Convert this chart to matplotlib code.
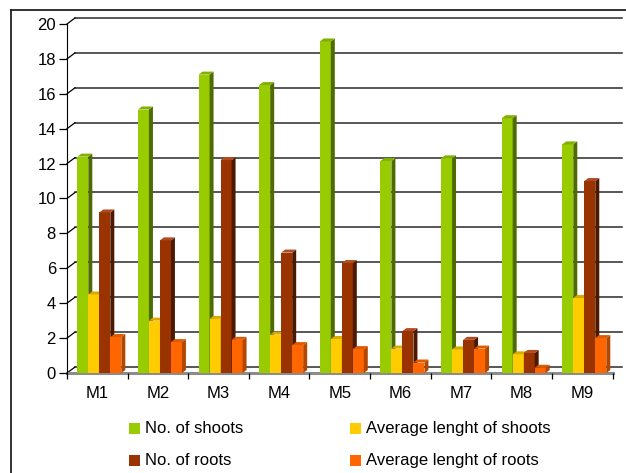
import numpy as np
import matplotlib
matplotlib.use('Agg')
import matplotlib.pyplot as plt
from matplotlib.patches import Polygon, Rectangle
from matplotlib.lines import Line2D

#%% Data
categories = ['M1', 'M2', 'M3', 'M4', 'M5', 'M6', 'M7', 'M8', 'M9']
no_shoots = [12.4, 15.1, 17.1, 16.5, 19.0, 12.15, 12.3, 14.6, 13.1]
avg_len_shoots = [4.5, 3.0, 3.1, 2.2, 1.95, 1.4, 1.35, 1.07, 4.3]
no_roots = [9.2, 7.6, 12.2, 6.9, 6.3, 2.4, 1.9, 1.15, 11.0]
avg_len_roots = [2.06, 1.77, 1.9, 1.6, 1.37, 0.6, 1.4, 0.3, 2.0]

series_names = ['No. of shoots', 'Average lenght of shoots',
                'No. of roots', 'Average lenght of roots']
series_vals = [no_shoots, avg_len_shoots, no_roots, avg_len_roots]
# front, side, top colours (Excel 3D look)
front_cols = ['#99cc00', '#ffcc00', '#993300', '#ff6600']
side_cols = ['#4d6b00', '#b38f00', '#4d1800', '#b34700']
top_cols = ['#80b000', '#d9aa00', '#b04a20', '#e05a00']

plt.rcParams['font.family'] = ['Liberation Sans', 'DejaVu Sans']
FS = 12

#%% Figure + axes placed in pixels
W, H = 626, 473
fig = plt.figure(figsize=(W / 100, H / 100), dpi=100)
x0, x1 = 67, 612.6
y0, y1 = 373, 24
ax = fig.add_axes([x0 / W, (H - y0) / H, (x1 - x0) / W, (y0 - y1) / H])
n = len(categories)
ax.set_xlim(0.5, n + 0.5)
ax.set_ylim(0, 20)
for s in ['top', 'right', 'bottom']:
    ax.spines[s].set_visible(False)
ax.spines['left'].set_color('black')

px_x = (x1 - x0) / n          # pixels per category
px_y = (y0 - y1) / 20.0       # pixels per unit
# back wall offset
dxw, dyw = 8 / px_x, 6 / px_y
# bar depth
dxb, dyb = 4 / px_x, 3 / px_y

# back wall gridlines
xend = 0.5 + (622 - x0) / px_x
for v in range(0, 21, 2):
    ax.plot([0.5 + dxw, xend], [v + dyw, v + dyw], color='#2a2a2a', lw=1.1,
            zorder=0.5, clip_on=False)
    ax.plot([0.5, 0.5 + dxw], [v, v + dyw], color='black', lw=0.9,
            zorder=0.5, clip_on=False)
# floor front edge
ax.plot([0.5, n + 0.5], [0, 0], color='#8c8c8c', lw=2.2, zorder=0.6,
        clip_on=False)

#%% 3D-ish bars
bw = 11 / px_x
start = -20 / px_x
x = np.arange(1, n + 1)
for i, (vals, fc, sc, tc) in enumerate(zip(series_vals, front_cols, side_cols, top_cols)):
    z = 2 + i
    left = x + start + i * bw
    ax.bar(left, vals, width=bw, align='edge', color=fc, linewidth=0,
           zorder=z, clip_on=False)
    for l, v in zip(left, vals):
        r = l + bw
        side = Polygon([[r, 0], [r + dxb, dyb], [r + dxb, v + dyb], [r, v]],
                       closed=True, facecolor=sc, edgecolor='none', zorder=z,
                       clip_on=False)
        top = Polygon([[l, v], [l + dxb, v + dyb], [r + dxb, v + dyb], [r, v]],
                      closed=True, facecolor=tc, edgecolor='none', zorder=z,
                      clip_on=False)
        ax.add_patch(side)
        ax.add_patch(top)

#%% Ticks
ax.set_yticks(range(0, 21, 2))
ax.tick_params(axis='y', length=6, width=0.9, pad=2, labelsize=FS)
ax.set_xticks(x)
ax.set_xticklabels(categories, fontsize=FS)
ax.set_xticks(np.arange(0.5, n + 1, 1), minor=True)
ax.tick_params(axis='x', which='major', length=0, pad=9)
ax.tick_params(axis='x', which='minor', length=4, width=0.9, color='black')

#%% Legend (manual, two columns)
leg_pos = [(129, 428), (350, 428), (129, 460.5), (350, 460.5)]
for (lx, ly), name, col in zip(leg_pos, series_names, front_cols):
    fig.add_artist(Rectangle((lx / W, (H - ly - 5.5) / H), 11 / W, 11 / H,
                             transform=fig.transFigure, facecolor=col,
                             edgecolor='none'))
    fig.text((lx + 16) / W, (H - ly) / H, name, fontsize=FS, va='center',
             ha='left')

# outer chart border (left and top visible)
fig.add_artist(Line2D([11 / W, 11 / W], [0, (H - 10) / H], color='#222222',
                      lw=1.3, transform=fig.transFigure))
fig.add_artist(Line2D([11 / W, 1], [(H - 10) / H, (H - 10) / H], color='#222222',
                      lw=1.3, transform=fig.transFigure))

fig.savefig('out.png', dpi=100)
